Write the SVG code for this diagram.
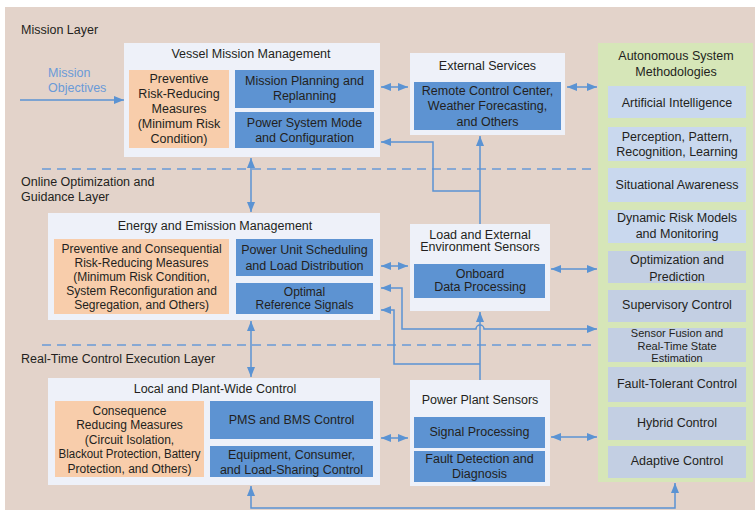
<svg xmlns="http://www.w3.org/2000/svg" width="755" height="515" viewBox="0 0 755 515">
<defs>
<marker id="ah" markerUnits="userSpaceOnUse" markerWidth="10" markerHeight="8" refX="10" refY="4" orient="auto-start-reverse"><path d="M0,0 L10,4 L0,8 z" fill="#5b93d3"/></marker>
<style>
text{font-family:"Liberation Sans",Arial,sans-serif;font-size:12.5px;fill:#231f20;text-anchor:middle}
.l{text-anchor:start}
.mo{fill:#6a9ad8;text-anchor:start}
.box{fill:#eef1f9}
.or{fill:#f8cdab}
.bl{fill:#5d93d2}
.it{fill:#c9d8ee}
.it2{fill:#c3cfe3}
.c{fill:none;stroke:#5b93d3;stroke-width:1.5}
.d{fill:none;stroke:#6a9ad8;stroke-width:1.3;stroke-dasharray:9,6}
.s{font-size:12px}
.t{font-size:11px}
</style>
</defs>
<rect x="0" y="0" width="755" height="515" fill="#ffffff"/>
<rect x="5" y="7" width="750" height="503" fill="#e3d3ca"/>

<g id="layers">
<text class="l" x="21" y="34">Mission Layer</text>
<text class="l" x="21" y="186">Online Optimization and</text>
<text class="l" x="21" y="201">Guidance Layer</text>
<text class="l" x="21" y="363">Real-Time Control Execution Layer</text>
<text class="mo" x="48" y="77">Mission</text>
<text class="mo" x="48" y="92">Objectives</text>
<path class="d" d="M42,169 H596"/>
<path class="d" d="M42,345 H596"/>
</g>

<g id="vessel">
<rect class="box" x="124" y="43" width="256" height="114"/>
<text x="251" y="58">Vessel Mission Management</text>
<rect class="or" x="129" y="70" width="100" height="78"/>
<text x="179" y="82.5">Preventive</text>
<text x="179" y="97.5">Risk-Reducing</text>
<text x="179" y="112.5">Measures</text>
<text x="179" y="128">(Minimum Risk</text>
<text x="179" y="143">Condition)</text>
<rect class="bl" x="235" y="70" width="139" height="38"/>
<text x="304.5" y="84.5">Mission Planning and</text>
<text x="304.5" y="99.5">Replanning</text>
<rect class="bl" x="235" y="112" width="139" height="36"/>
<text x="304.5" y="126.5">Power System Mode</text>
<text x="304.5" y="141.5">and Configuration</text>
</g>

<g id="external">
<rect class="box" x="410" y="53" width="155" height="82"/>
<text x="487.5" y="69.5">External Services</text>
<rect class="bl" x="414" y="82" width="147" height="48"/>
<text x="487.5" y="95">Remote Control Center,</text>
<text x="487.5" y="110">Weather Forecasting,</text>
<text x="487.5" y="125.5">and Others</text>
</g>

<g id="energy">
<rect class="box" x="48" y="213" width="332" height="107"/>
<text x="215" y="229.5">Energy and Emission Management</text>
<rect class="or" x="54" y="239" width="175" height="75"/>
<text class="s" x="141.5" y="253">Preventive and Consequential</text>
<text class="s" x="141.5" y="267">Risk-Reducing Measures</text>
<text class="s" x="141.5" y="281">(Minimum Risk Condition,</text>
<text class="s" x="141.5" y="295">System Reconfiguration and</text>
<text class="s" x="141.5" y="309">Segregation, and Others)</text>
<rect class="bl" x="236" y="239" width="137" height="37"/>
<text x="304.5" y="253.5">Power Unit Scheduling</text>
<text x="304.5" y="270">and Load Distribution</text>
<rect class="bl" x="236" y="283" width="137" height="31"/>
<text class="s" x="304.5" y="296">Optimal</text>
<text class="s" x="304.5" y="309">Reference Signals</text>
</g>

<g id="loadsensors">
<rect class="box" x="410" y="224" width="140" height="87"/>
<text x="480" y="238.5">Load and External</text>
<text x="480" y="251">Environment Sensors</text>
<rect class="bl" x="414" y="264" width="131" height="34"/>
<text x="480" y="278">Onboard</text>
<text x="480" y="291">Data Processing</text>
</g>

<g id="local">
<rect class="box" x="48" y="378" width="332" height="107"/>
<text x="215" y="393">Local and Plant-Wide Control</text>
<rect class="or" x="55" y="401" width="149" height="76"/>
<text class="s" x="129.5" y="414.5">Consequence</text>
<text class="s" x="129.5" y="429">Reducing Measures</text>
<text class="s" x="129.5" y="443.5">(Circuit Isolation,</text>
<text class="s" x="129.5" y="458" textLength="142" lengthAdjust="spacingAndGlyphs">Blackout Protection, Battery</text>
<text class="s" x="129.5" y="472.5">Protection, and Others)</text>
<rect class="bl" x="210" y="401" width="163" height="38"/>
<text x="291.5" y="423.5">PMS and BMS Control</text>
<rect class="bl" x="210" y="446" width="163" height="31"/>
<text x="291.5" y="458.5">Equipment, Consumer,</text>
<text x="291.5" y="473.5">and Load-Sharing Control</text>
</g>

<g id="plantsensors">
<rect class="box" x="410" y="380" width="140" height="106"/>
<text x="480" y="403.5">Power Plant Sensors</text>
<rect class="bl" x="414" y="417" width="131" height="31"/>
<text x="479.5" y="435.5">Signal Processing</text>
<rect class="bl" x="414" y="451" width="131" height="31"/>
<text x="479.5" y="462.5">Fault Detection and</text>
<text x="479.5" y="477.5">Diagnosis</text>
</g>

<g id="autonomous">
<rect x="598" y="43" width="155" height="439" fill="#d6e6b8"/>
<text x="676" y="59.5">Autonomous System</text>
<text x="676" y="75.5">Methodologies</text>
<rect class="it" x="608" y="86" width="138" height="32"/>
<text x="677" y="106.5">Artificial Intelligence</text>
<rect class="it" x="608" y="127" width="138" height="34"/>
<text x="677" y="140.5">Perception, Pattern,</text>
<text x="677" y="155.5">Recognition, Learning</text>
<rect class="it" x="608" y="168" width="138" height="34"/>
<text x="677" y="188.5">Situational Awareness</text>
<rect class="it" x="608" y="210" width="138" height="33"/>
<text x="677" y="221.5">Dynamic Risk Models</text>
<text x="677" y="237.5">and Monitoring</text>
<rect class="it2" x="608" y="251" width="138" height="32"/>
<text x="677" y="263.5">Optimization and</text>
<text x="677" y="280.5">Prediction</text>
<rect class="it2" x="608" y="290" width="138" height="32"/>
<text x="677" y="308.5">Supervisory Control</text>
<rect class="it2" x="608" y="328" width="138" height="34"/>
<text class="t" x="677" y="337">Sensor Fusion and</text>
<text class="t" x="677" y="349.5">Real-Time State</text>
<text class="t" x="677" y="362">Estimation</text>
<rect class="it2" x="608" y="367" width="138" height="35"/>
<text x="677" y="387.5">Fault-Tolerant Control</text>
<rect class="it2" x="608" y="407" width="138" height="33"/>
<text x="677" y="426.5">Hybrid Control</text>
<rect class="it2" x="608" y="446" width="138" height="32"/>
<text x="677" y="464.5">Adaptive Control</text>
</g>

<g id="connectors">
<path class="c" d="M20,100 H124" marker-end="url(#ah)"/>
<path class="c" d="M381,87 H408" marker-start="url(#ah)" marker-end="url(#ah)"/>
<path class="c" d="M567,87 H597" marker-start="url(#ah)" marker-end="url(#ah)"/>
<path class="c" d="M251,158 V212" marker-start="url(#ah)" marker-end="url(#ah)"/>
<path class="c" d="M480,224 V136" marker-end="url(#ah)"/>
<path class="c" d="M480,191 H433 V142 H381" marker-end="url(#ah)"/>
<path class="c" d="M381,266 H408" marker-start="url(#ah)" marker-end="url(#ah)"/>
<path class="c" d="M551,269 H597" marker-start="url(#ah)" marker-end="url(#ah)"/>
<path class="c" d="M251,321 V377" marker-start="url(#ah)" marker-end="url(#ah)"/>
<path class="c" d="M381,288 H402 V329 H476 A4,4 0 0 1 484,329 H597" marker-start="url(#ah)" marker-end="url(#ah)"/>
<path class="c" d="M480,380 V312" marker-end="url(#ah)"/>
<path class="c" d="M480,364 H394 V310 H381" marker-end="url(#ah)"/>
<path class="c" d="M381,438 H408" marker-start="url(#ah)" marker-end="url(#ah)"/>
<path class="c" d="M551,437 H597" marker-start="url(#ah)" marker-end="url(#ah)"/>
<path class="c" d="M251,486 V508 H675 V483" marker-start="url(#ah)" marker-end="url(#ah)"/>
</g>
</svg>
